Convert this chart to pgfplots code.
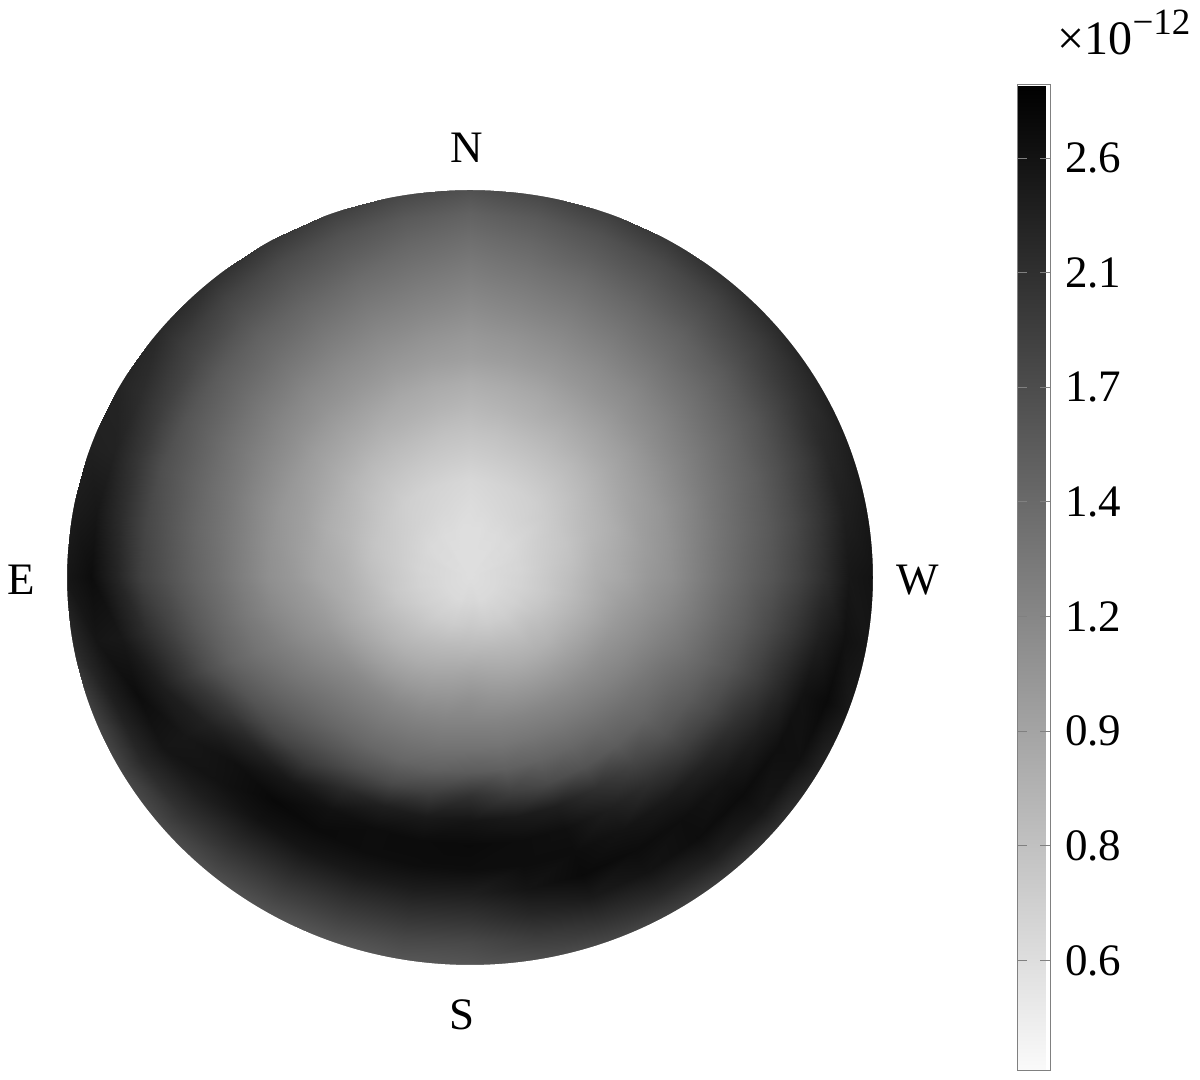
\documentclass[border=0pt]{standalone}
\usepackage{fontspec}
\setmainfont{Liberation Serif}
\usepackage{pgfplots}
\pgfplotsset{compat=1.18}
% radiance on a polar grid: 17 rings (r=0..1), 37 spokes (0..360 deg, 0 = right)
\newcommand{\lab}{\fontsize{22.5}{24}\selectfont}
\begin{document}
\begin{tikzpicture}
\useasboundingbox (0,0) rectangle (600pt,540pt);
\begin{axis}[
    at={(33.5pt,57.5pt)}, anchor=south west,
    scale only axis, width=403pt, height=387.5pt,
    xmin=-1, xmax=1, ymin=-1, ymax=1,
    hide axis, clip=false,
    colormap={bw}{gray(0cm)=(0.98); gray(1cm)=(0)},
    point meta min=-0.309, point meta max=0.473,
    colorbar,
    colorbar style={
        at={(1.1787,-0.1355)}, anchor=south west,
        scale only axis, width=16.5pt, height=492.5pt,
        ytick={-0.222,-0.131,-0.040,0.051,0.142,0.233,0.324,0.415},
        yticklabels={0.6,0.8,0.9,1.2,1.4,1.7,2.1,2.6},
        tick align=inside, major tick length=5pt,
        tick style={gray, line width=0.5pt},
        axis line style={gray, line width=0.5pt},
        yticklabel style={font=\lab, xshift=4pt},
    },
]
% outer ring is pushed out a little and masked below, so the rim is round
\addplot[surf, shader=interp, mesh/cols=37, point meta={log10(\thisrow{v})}]
table[row sep=\\,
      x expr={floor((\coordindex+0.5)/37)/16*1.004*cos(mod(\coordindex,37)*10)},
      y expr={floor((\coordindex+0.5)/37)/16*1.004*sin(mod(\coordindex,37)*10)}] {
v\\
0.60\\0.60\\0.60\\0.60\\0.60\\0.60\\0.60\\0.60\\0.60\\0.60\\0.60\\0.60\\0.60\\0.60\\0.60\\0.60\\0.60\\0.60\\0.60\\0.60\\0.60\\0.60\\0.60\\0.60\\0.60\\0.60\\0.60\\0.60\\0.60\\0.60\\0.60\\0.60\\0.60\\0.60\\0.60\\0.60\\0.60\\
0.62\\0.62\\0.62\\0.61\\0.61\\0.61\\0.60\\0.60\\0.60\\0.60\\0.60\\0.60\\0.60\\0.61\\0.61\\0.61\\0.62\\0.62\\0.62\\0.62\\0.62\\0.62\\0.62\\0.62\\0.62\\0.62\\0.63\\0.63\\0.63\\0.62\\0.62\\0.62\\0.62\\0.62\\0.62\\0.62\\0.62\\
0.65\\0.64\\0.64\\0.63\\0.62\\0.62\\0.61\\0.61\\0.60\\0.60\\0.60\\0.61\\0.61\\0.62\\0.62\\0.63\\0.64\\0.64\\0.65\\0.65\\0.66\\0.66\\0.67\\0.67\\0.68\\0.68\\0.69\\0.70\\0.69\\0.68\\0.68\\0.67\\0.67\\0.66\\0.66\\0.65\\0.65\\
0.70\\0.69\\0.68\\0.67\\0.65\\0.65\\0.64\\0.63\\0.62\\0.61\\0.62\\0.63\\0.64\\0.65\\0.66\\0.67\\0.68\\0.69\\0.70\\0.70\\0.71\\0.73\\0.74\\0.75\\0.77\\0.78\\0.79\\0.79\\0.79\\0.78\\0.77\\0.75\\0.75\\0.73\\0.71\\0.70\\0.70\\
0.76\\0.74\\0.72\\0.71\\0.69\\0.67\\0.66\\0.65\\0.64\\0.63\\0.64\\0.65\\0.66\\0.67\\0.69\\0.71\\0.72\\0.74\\0.76\\0.78\\0.79\\0.81\\0.82\\0.84\\0.86\\0.88\\0.90\\0.92\\0.90\\0.88\\0.86\\0.84\\0.82\\0.81\\0.79\\0.77\\0.76\\
0.84\\0.82\\0.79\\0.77\\0.74\\0.72\\0.71\\0.70\\0.69\\0.68\\0.69\\0.70\\0.71\\0.72\\0.74\\0.77\\0.79\\0.82\\0.84\\0.86\\0.88\\0.91\\0.94\\0.96\\0.98\\1.00\\1.02\\1.05\\1.02\\1.00\\0.98\\0.96\\0.94\\0.91\\0.88\\0.86\\0.84\\
0.90\\0.88\\0.85\\0.83\\0.80\\0.78\\0.77\\0.76\\0.74\\0.73\\0.74\\0.76\\0.77\\0.78\\0.80\\0.83\\0.85\\0.88\\0.90\\0.95\\0.99\\1.04\\1.09\\1.12\\1.13\\1.14\\1.15\\1.16\\1.15\\1.14\\1.12\\1.09\\1.06\\1.03\\0.99\\0.95\\0.90\\
0.99\\0.96\\0.94\\0.91\\0.88\\0.86\\0.84\\0.83\\0.81\\0.79\\0.81\\0.83\\0.84\\0.86\\0.88\\0.91\\0.94\\0.96\\0.99\\1.03\\1.08\\1.15\\1.22\\1.25\\1.26\\1.27\\1.28\\1.30\\1.28\\1.27\\1.25\\1.22\\1.18\\1.13\\1.08\\1.03\\0.99\\
1.06\\1.04\\1.01\\0.99\\0.96\\0.94\\0.92\\0.89\\0.87\\0.85\\0.87\\0.89\\0.92\\0.94\\0.96\\0.99\\1.01\\1.04\\1.06\\1.12\\1.19\\1.27\\1.36\\1.40\\1.41\\1.42\\1.47\\1.53\\1.49\\1.45\\1.41\\1.37\\1.32\\1.26\\1.19\\1.12\\1.06\\
1.19\\1.16\\1.12\\1.09\\1.06\\1.03\\1.01\\0.98\\0.96\\0.94\\0.96\\0.98\\1.01\\1.03\\1.06\\1.09\\1.12\\1.16\\1.19\\1.24\\1.30\\1.42\\1.53\\1.62\\1.68\\1.74\\1.90\\2.09\\1.90\\1.74\\1.63\\1.52\\1.44\\1.40\\1.30\\1.24\\1.19\\
1.33\\1.29\\1.25\\1.20\\1.16\\1.12\\1.09\\1.06\\1.03\\1.00\\1.03\\1.06\\1.09\\1.12\\1.16\\1.20\\1.25\\1.29\\1.33\\1.39\\1.45\\1.62\\1.79\\1.97\\2.18\\2.38\\2.47\\2.56\\2.47\\2.38\\2.10\\1.82\\1.63\\1.54\\1.45\\1.39\\1.33\\
1.47\\1.42\\1.37\\1.32\\1.27\\1.23\\1.19\\1.15\\1.12\\1.08\\1.12\\1.15\\1.19\\1.23\\1.27\\1.32\\1.37\\1.42\\1.47\\1.57\\1.68\\2.00\\2.31\\2.52\\2.62\\2.71\\2.73\\2.76\\2.71\\2.66\\2.39\\2.12\\1.91\\1.76\\1.62\\1.54\\1.47\\
1.62\\1.56\\1.50\\1.45\\1.39\\1.35\\1.30\\1.25\\1.21\\1.16\\1.21\\1.25\\1.30\\1.35\\1.40\\1.46\\1.52\\1.59\\1.65\\1.83\\2.02\\2.34\\2.65\\2.79\\2.75\\2.71\\2.71\\2.71\\2.71\\2.71\\2.59\\2.48\\2.31\\2.09\\1.87\\1.75\\1.62\\
1.84\\1.76\\1.69\\1.61\\1.54\\1.47\\1.42\\1.36\\1.31\\1.25\\1.31\\1.36\\1.42\\1.47\\1.54\\1.62\\1.69\\1.79\\1.87\\2.14\\2.42\\2.52\\2.61\\2.62\\2.55\\2.47\\2.42\\2.38\\2.57\\2.76\\2.72\\2.68\\2.57\\2.39\\2.21\\2.02\\1.84\\
2.13\\2.03\\1.93\\1.83\\1.73\\1.64\\1.57\\1.50\\1.42\\1.35\\1.42\\1.50\\1.57\\1.64\\1.75\\1.89\\2.02\\2.16\\2.30\\2.50\\2.71\\2.55\\2.38\\2.27\\2.20\\2.13\\2.09\\2.06\\2.26\\2.47\\2.59\\2.70\\2.73\\2.67\\2.61\\2.37\\2.13\\
2.52\\2.38\\2.23\\2.08\\1.94\\1.83\\1.74\\1.65\\1.56\\1.47\\1.56\\1.65\\1.74\\1.83\\1.96\\2.15\\2.33\\2.53\\2.71\\2.55\\2.38\\2.22\\2.06\\1.95\\1.89\\1.84\\1.80\\1.77\\1.93\\2.09\\2.24\\2.39\\2.53\\2.64\\2.76\\2.64\\2.52\\
2.61\\2.51\\2.41\\2.32\\2.22\\2.12\\2.01\\1.90\\1.79\\1.68\\1.79\\1.90\\2.01\\2.12\\2.21\\2.29\\2.35\\2.44\\2.52\\2.18\\1.84\\1.79\\1.74\\1.68\\1.63\\1.59\\1.59\\1.59\\1.68\\1.77\\1.85\\1.94\\2.08\\2.28\\2.47\\2.54\\2.61\\
};
\end{axis}
\fill[white, even odd rule] (235pt,251.25pt) ellipse [x radius=201.5pt, y radius=193.75pt]
                            (235pt,251.25pt) ellipse [x radius=208pt, y radius=200pt];
\node[font=\lab] at (233.5pt,466pt) {N};
\node[font=\lab] at (231pt,32.5pt) {S};
\node[font=\lab] at (10.5pt,250pt) {E};
\node[font=\lab] at (459pt,250pt) {W};
\node[font=\lab, fontsize/.style={}] at (562pt,523.5pt) {\fontsize{24}{26}\selectfont ×10\raisebox{10pt}{\fontsize{18.5}{20}\selectfont −12}};
\end{tikzpicture}
\end{document}
